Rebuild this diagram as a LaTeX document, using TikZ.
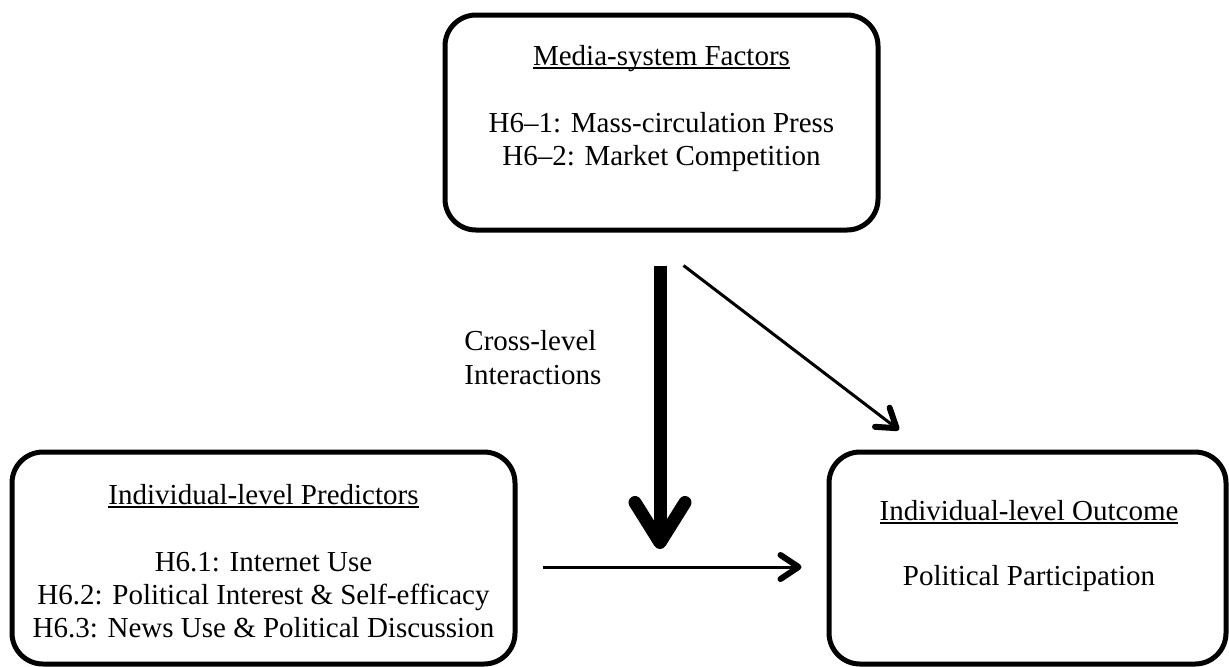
\documentclass[tikz,border=0pt]{standalone}
\usepackage{fontspec}
\setmainfont{Liberation Serif}
\usetikzlibrary{arrows.meta,calc}
\newcommand\ulx[1]{\setbox0\hbox{#1}\rlap{\rule[-2pt]{\wd0}{0.9pt}}\box0}
\begin{document}
\begin{tikzpicture}[x=0.5pt,y=-0.5pt,
  box/.style={draw, line width=2.5pt, rounded corners=15.5pt, inner sep=0pt},
  txt/.style={font=\fontsize{14.5}{16.7}\selectfont, inner sep=0pt, anchor=base},
  thinarrow/.style={line width=1.5pt, -{Straight Barb[length=9pt,width=12pt,line width=3pt,round]}},
  thickarrow/.style={line width=6.5pt, -{Straight Barb[length=20pt,width=25pt,round]}}]
\useasboundingbox (0,0) rectangle (1229,666);
% boxes
\node[box, minimum width=216.5pt, minimum height=107.5pt] (top) at (661.5,122.5) {};
\node[box, minimum width=251.5pt, minimum height=106pt] (left) at (263.5,558) {};
\node[box, minimum width=198.5pt, minimum height=106pt] (right) at (1027.5,558) {};
% texts
\node[txt] (t0) at (661.5,65) {\ulx{Media-system Factors}};
\node[txt] (t1) at (661.5,132) {H6–1: Mass-circulation Press};
\node[txt] (t2) at (661.5,165) {H6–2: Market Competition};
\node[txt] (l0) at (263.5,504) {\ulx{Individual-level Predictors}};
\node[txt] (l1) at (263.5,571) {H6.1: Internet Use};
\node[txt] (l2) at (263.5,604) {H6.2: Political Interest \& Self-efficacy};
\node[txt] (l3) at (263.5,637) {H6.3: News Use \& Political Discussion};
\node[txt] (r0) at (1029,520) {\ulx{Individual-level Outcome}};
\node[txt] (r1) at (1029,585) {Political Participation};
\node[txt, anchor=base west] (c0) at (464,350) {Cross-level};
\node[txt, anchor=base west] (c1) at (464,384) {Interactions};
% connectors
\coordinate (h1) at ($(left.east)+(25,9)$);
\coordinate (h2) at ($(right.west)+(-25,9)$);
\coordinate (d1) at ($(top.south)+(22,33)$);
\coordinate (d2) at (899,430);
\coordinate (v1) at ($(top.south)+(-1.5,33)$);
\coordinate (v2) at (660,549);
\draw[thinarrow] (h1) -- (h2);
\draw[thinarrow] (d1) -- (d2);
\draw[thickarrow] (v1) -- (v2);
\end{tikzpicture}
\end{document}
